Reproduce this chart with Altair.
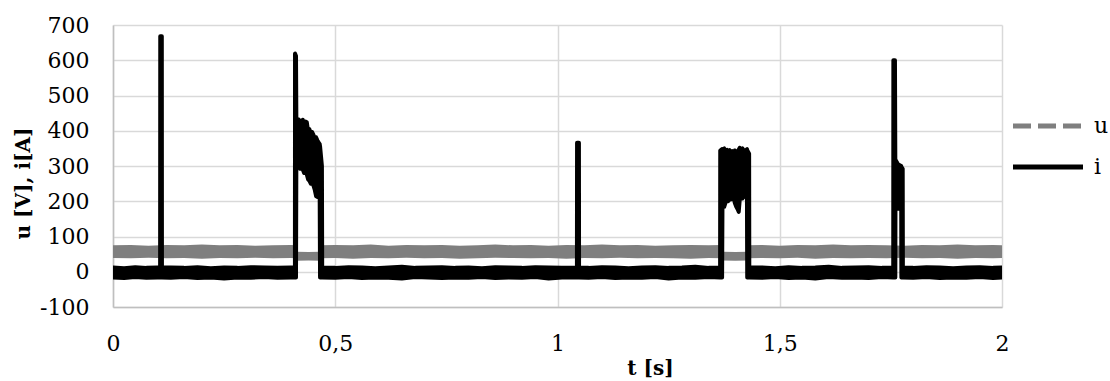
import altair as alt
import pandas as pd

# ---- voltage u(t): noisy band, lower / upper envelope [V] ----
u_t = [0.00, 0.04, 0.08, 0.12, 0.16, 0.20, 0.24, 0.28, 0.32, 0.36, 0.40, 0.4120,
       0.4128, 0.4400, 0.4655,
       0.4663, 0.50, 0.54, 0.58, 0.62, 0.66, 0.70, 0.74, 0.78, 0.82, 0.86, 0.90,
       0.94, 0.98, 1.02, 1.06, 1.10, 1.14, 1.18, 1.22, 1.26, 1.30, 1.34, 1.3705,
       1.3713, 1.4000, 1.4268,
       1.4276, 1.46, 1.50, 1.54, 1.58, 1.62, 1.66, 1.70, 1.74, 1.78, 1.82, 1.86,
       1.90, 1.94, 1.98, 2.00]
u_lo = [39, 38, 40, 38, 39, 37, 39, 38, 40, 38, 39, 38,
        31, 32, 31,
        38, 39, 37, 39, 38, 40, 38, 39, 37, 38, 40, 39,
        38, 39, 37, 39, 38, 40, 38, 39, 38, 37, 39, 38,
        32, 31, 32,
        38, 39, 38, 40, 37, 39, 38, 39, 38, 40, 38, 39,
        37, 39, 38, 39]
u_hi = [75, 76, 74, 76, 75, 77, 75, 76, 74, 75, 76, 75,
        57, 56, 57,
        75, 76, 75, 77, 74, 76, 75, 76, 74, 75, 77, 75,
        76, 74, 76, 75, 77, 75, 76, 74, 75, 76, 75, 76,
        57, 56, 57,
        75, 76, 74, 76, 75, 77, 75, 76, 75, 74, 76, 75,
        77, 75, 76, 75]

# ---- current i(t): lower / upper envelope [A] ----
i_t = [0.000, 0.025, 0.050, 0.075, 0.100, 0.1060,
       0.1063, 0.1098, 0.1101,
       0.130, 0.160, 0.190, 0.220, 0.250, 0.280, 0.310, 0.340, 0.370, 0.400, 0.4093,
       0.4095, 0.4117, 0.4125, 0.4150, 0.4180, 0.4210, 0.4240, 0.4270, 0.4300,
       0.4330, 0.4360, 0.4390, 0.4420, 0.4450, 0.4480, 0.4510, 0.4540, 0.4570,
       0.4600, 0.4630, 0.4650, 0.4658, 0.4700, 0.4706,
       0.50, 0.53, 0.56, 0.59, 0.62, 0.65, 0.68, 0.71, 0.74, 0.77, 0.80, 0.83,
       0.86, 0.89, 0.92, 0.95, 0.98, 1.01, 1.0437,
       1.0440, 1.0482, 1.0485,
       1.07, 1.10, 1.13, 1.16, 1.19, 1.22, 1.25, 1.28, 1.31, 1.34, 1.3658,
       1.3661, 1.3703, 1.3712, 1.3750, 1.3780, 1.3810, 1.3840, 1.3870, 1.3900,
       1.3930, 1.3964, 1.3990, 1.4020, 1.4050, 1.4077, 1.4100, 1.4130, 1.4160,
       1.4189, 1.4220, 1.4250, 1.4262, 1.4268, 1.4311, 1.4315,
       1.46, 1.49, 1.52, 1.55, 1.58, 1.61, 1.64, 1.67, 1.70, 1.73, 1.7553,
       1.7556, 1.7592, 1.7600, 1.7603, 1.7660, 1.7733, 1.7736, 1.7766, 1.7770,
       1.80, 1.83, 1.86, 1.89, 1.92, 1.95, 1.98, 2.00]
i_lo = [-16, -18, -15, -17, -16, -16,
        -16, -16, -16,
        -17, -15, -18, -16, -19, -16, -17, -15, -17, -16, -16,
        -16, -16, 315, 306, 312, 292, 303, 290, 280,
        288, 276, 262, 258, 250, 256, 244, 232, 214,
        212, 216, 212, -16, -16, -16,
        -17, -15, -18, -16, -17, -19, -15, -16, -18, -16, -17, -15,
        -18, -16, -17, -15, -19, -16, -16,
        -16, -16, -16,
        -17, -15, -18, -16, -17, -15, -19, -16, -17, -15, -16,
        -16, -16, 205, 184, 196, 210, 200, 215, 205,
        212, 208, 195, 185, 178, 170, 205, 212, 208,
        212, 218, 215, 210, -16, -16, -16,
        -17, -15, -18, -16, -19, -15, -17, -16, -18, -15, -16,
        -16, -16, -16, 179, 179, 179, -16, -16, -16,
        -17, -15, -18, -16, -17, -15, -18, -16]
i_hi = [12, 10, 13, 11, 12, 12,
        668, 668, 12,
        12, 11, 13, 10, 12, 11, 13, 12, 11, 12, 12,
        619, 612, 436, 418, 432, 410, 428, 431, 406,
        426, 424, 398, 404, 392, 396, 388, 378, 381,
        372, 366, 362, 356, 300, 12,
        11, 13, 12, 10, 12, 14, 11, 12, 13, 11, 12, 10,
        13, 12, 11, 13, 12, 11, 12,
        366, 366, 12,
        11, 13, 12, 10, 12, 13, 11, 12, 14, 11, 12,
        344, 348, 340, 350, 333, 346, 336, 345, 330,
        342, 338, 344, 334, 340, 346, 352, 338, 350,
        345, 332, 344, 348, 345, 335, 12,
        12, 10, 13, 11, 12, 14, 11, 12, 13, 11, 12,
        600, 600, 320, 318, 305, 300, 298, 292, 12,
        11, 13, 12, 10, 12, 13, 11, 12]

x_ticks = [0, 0.5, 1, 1.5, 2]
y_ticks = [-100, 0, 100, 200, 300, 400, 500, 600, 700]
series_names = ["u", "i"]
series_colors = ["#7f7f7f", "#000000"]
series_dash = [[18, 7], [1, 0]]

u_df = pd.DataFrame({"t": u_t, "lo": u_lo, "hi": u_hi})
i_df = pd.DataFrame({"t": i_t, "lo": i_lo, "hi": i_hi})

# centre traces of both bands, used for the legend layer (hidden under the bands)
mid_df = pd.concat([
    pd.DataFrame({"t": u_t, "mid": [(a + b) / 2 for a, b in zip(u_lo, u_hi)], "series": "u"}),
    pd.DataFrame({"t": i_t, "mid": [(a + b) / 2 for a, b in zip(i_lo, i_hi)], "series": "i"}),
], ignore_index=True)

FONT = "DejaVu Serif"

x_scale = alt.Scale(domain=[0, 2], nice=False, zero=False)
y_scale = alt.Scale(domain=[-100, 700], nice=False, zero=False)

x_axis = alt.Axis(
    values=x_ticks, title="t [s]", grid=True, labelFlush=False,
    labelExpr="replace(format(datum.value, '~g'), '.', ',')",
    labelBaseline="middle", labelPadding=36,
    titleX=537, titleY=61, titleAlign="center", titleBaseline="middle",
)
y_axis = alt.Axis(
    values=y_ticks, title="u [V], i[A]", grid=True,
    labelExpr="toString(datum.value)", labelPadding=24,
    titleX=-90, titleY=158, titleAlign="center", titleBaseline="middle",
    titleAngle=270,
)

legend = alt.Legend(
    title=None, orient="none", legendX=924, legendY=90,
    symbolType="M-5,0H5", symbolSize=196, symbolStrokeWidth=5,
    labelFont=FONT, labelFontSize=22, labelColor="black",
    labelOffset=35, rowPadding=19, padding=0,
)

legend_lines = alt.Chart(mid_df).mark_line(strokeWidth=1, clip=True).encode(
    x=alt.X("t:Q", scale=x_scale, axis=x_axis),
    y=alt.Y("mid:Q", scale=y_scale, axis=y_axis),
    color=alt.Color("series:N", scale=alt.Scale(domain=series_names, range=series_colors),
                    legend=legend),
    strokeDash=alt.StrokeDash("series:N", scale=alt.Scale(domain=series_names, range=series_dash),
                              legend=legend),
    detail="series:N",
)

u_band = alt.Chart(u_df).mark_area(color=series_colors[0], clip=True).encode(
    x=alt.X("t:Q", scale=x_scale, axis=x_axis),
    y=alt.Y("lo:Q", scale=y_scale, axis=y_axis),
    y2="hi:Q",
)

i_band = alt.Chart(i_df).mark_area(
    color=series_colors[1], stroke=series_colors[1], strokeWidth=4,
    strokeJoin="round", clip=True,
).encode(
    x=alt.X("t:Q", scale=x_scale, axis=x_axis),
    y=alt.Y("lo:Q", scale=y_scale, axis=y_axis),
    y2="hi:Q",
)

chart = alt.layer(legend_lines, u_band, i_band).properties(
    width=889, height=282,
    autosize=alt.AutoSizeParams(type="none"),
    padding={"left": 113, "top": 25, "right": 108, "bottom": 74},
).configure_view(stroke=None).configure_axis(
    gridColor="#d9d9d9", gridWidth=1.5,
    domainColor="#bfbfbf", domainWidth=1.5,
    ticks=False, tickSize=0,
    labelFont=FONT, labelFontSize=22, labelColor="black",
    titleFont=FONT, titleFontSize=20, titleFontWeight="bold", titleColor="black",
)

chart.save("out.html", embed_options={"renderer": "svg", "actions": False})
